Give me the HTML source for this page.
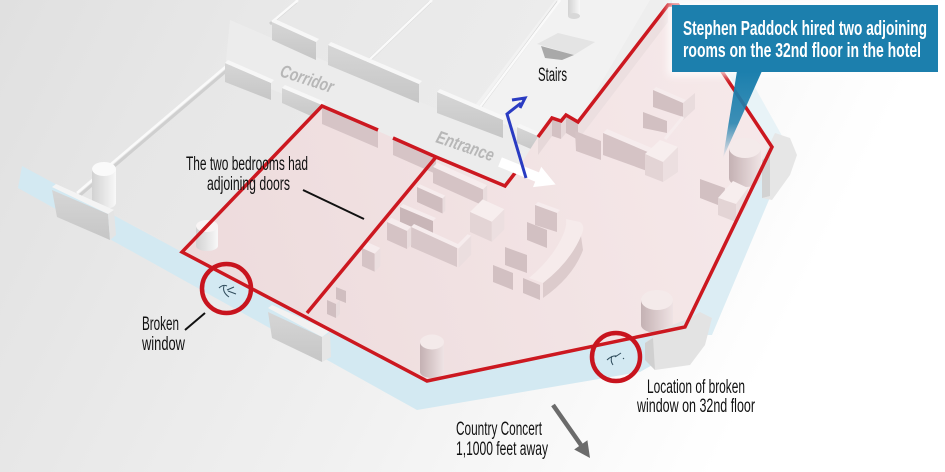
<!DOCTYPE html>
<html><head><meta charset="utf-8"><style>
html,body{margin:0;padding:0;background:#fff;}
svg{display:block;}
text{font-family:"Liberation Sans Narrow","Liberation Sans",sans-serif;}
</style></head><body>
<svg width="945" height="472" viewBox="0 0 945 472" xmlns="http://www.w3.org/2000/svg">
<defs>
<linearGradient id="bg" x1="0" y1="0" x2="760" y2="380" gradientUnits="userSpaceOnUse">
<stop offset="0" stop-color="#e0e0e0"/><stop offset="0.6" stop-color="#f1f1f1"/><stop offset="1" stop-color="#ffffff"/>
</linearGradient>
<linearGradient id="fl" x1="0" y1="0" x2="760" y2="380" gradientUnits="userSpaceOnUse">
<stop offset="0" stop-color="#e3e3e3"/><stop offset="0.6" stop-color="#ececec"/><stop offset="1" stop-color="#f4f4f4"/>
</linearGradient>
<linearGradient id="pk" x1="180" y1="260" x2="770" y2="90" gradientUnits="userSpaceOnUse">
<stop offset="0" stop-color="#eddbdc"/><stop offset="1" stop-color="#f6e9ea"/>
</linearGradient>
<linearGradient id="ptr" x1="0" y1="72" x2="0" y2="158" gradientUnits="userSpaceOnUse">
<stop offset="0" stop-color="#1c7fad"/><stop offset="0.6" stop-color="#1c7fad" stop-opacity="0.85"/><stop offset="1" stop-color="#1c7fad" stop-opacity="0"/>
</linearGradient>
<linearGradient id="cyl" x1="0" x2="1"><stop offset="0" stop-color="#c4b1b3"/><stop offset="1" stop-color="#efe3e4"/></linearGradient>
<linearGradient id="cylw" x1="0" x2="1"><stop offset="0" stop-color="#d2d2d2"/><stop offset="1" stop-color="#f8f8f8"/></linearGradient>
<linearGradient id="gw" x1="0" y1="0" x2="0" y2="1"><stop offset="0" stop-color="#d6d6d6"/><stop offset="1" stop-color="#c6c6c6"/></linearGradient>
<filter id="blur" x="-20%" y="-20%" width="140%" height="140%"><feGaussianBlur stdDeviation="4"/></filter>
</defs>

<!-- background -->
<rect x="0" y="0" width="945" height="472" fill="url(#bg)"/>

<!-- window band -->
<polygon points="22,166 182,252 427,381 685,327 705,335 640,372 417,410 18,188" fill="#d3e9f2"/>
<polygon points="685,327 772,147 790,150 712,335 705,335" fill="#dcedf4"/>
<polygon points="727,72 772,147 790,150 748,75" fill="#e8f3f7"/>
<polygon points="650,0 672,0 672,14 660,22" fill="#d8ecf4"/>

<!-- gray floor -->
<polygon points="77,193 230,63 298,0 672,0 668,5 578,122 566,115 561,121 552,118 538,137 515,173 505,186 436,157 322,106 182,252" fill="url(#fl)"/>
<!-- corridor strip -->
<polygon points="230,20 520,145 515,173 505,186 225,70" fill="#ececec"/>
<!-- stairs room -->
<polygon points="470,112 555,0 650,0 578,122 566,115 561,121 552,118 538,137 520,130" fill="#f2f2f2"/>

<!-- thin wall lines -->
<line x1="79" y1="196" x2="232" y2="66" stroke="#cfcfcf" stroke-width="3"/>
<line x1="77" y1="193" x2="230" y2="63" stroke="#fafafa" stroke-width="2.5"/>
<line x1="270" y1="24" x2="296" y2="2" stroke="#cfcfcf" stroke-width="3"/>
<line x1="272" y1="22" x2="298" y2="0" stroke="#fafafa" stroke-width="2.5"/>
<line x1="365" y1="64" x2="430" y2="2" stroke="#cfcfcf" stroke-width="3"/>
<line x1="367" y1="62" x2="432" y2="0" stroke="#fafafa" stroke-width="2.5"/>
<line x1="478" y1="110" x2="558" y2="2" stroke="#cfcfcf" stroke-width="3"/>
<line x1="480" y1="107" x2="560" y2="0" stroke="#fafafa" stroke-width="2.5"/>
<rect x="568" y="0" width="12" height="16" fill="url(#cylw)"/>
<ellipse cx="574" cy="16" rx="6" ry="3" fill="#d8d8d8"/>

<!-- stairs -->
<polygon points="537,44 558,33 595,42 574,55" fill="#e4e4e4"/>
<polygon points="541,46 574,55 562,60 545,58" fill="#a9a9a9"/>

<!-- gray corridor walls -->
<polygon points="272,22 316,42 316,60 272,40" fill="url(#gw)"/>
<polygon points="272,22 316,42 319,39 275,19" fill="#f7f7f7"/>
<polygon points="328,45 419,84 419,103 328,65" fill="url(#gw)"/>
<polygon points="328,45 419,84 422,81 331,42" fill="#f7f7f7"/>
<polygon points="437,92 503,120 503,138 437,113" fill="url(#gw)"/>
<polygon points="437,92 503,120 506,117 440,89" fill="#f7f7f7"/>
<polygon points="225,63 271,83 271,100 225,82" fill="url(#gw)"/>
<polygon points="225,63 271,83 274,80 228,60" fill="#f7f7f7"/>
<polygon points="282,88 322,105 322,121 282,103" fill="url(#gw)"/>
<polygon points="282,88 322,105 325,102 285,85" fill="#f7f7f7"/>
<polygon points="517,127 540,137 540,153 517,143" fill="url(#gw)"/>
<polygon points="517,127 540,137 543,134 520,124" fill="#f7f7f7"/>

<!-- pink floor -->
<polygon points="182,252 322,106 436,157 505,186 515,173 538,137 552,118 561,121 566,115 578,122 668,5 678,5 772,147 685,327 427,381" fill="url(#pk)"/>

<!-- pink wall faces along edges -->
<polygon points="322,106 378,130 378,148 322,124" fill="#d6c4c6"/>
<polygon points="393,137 436,156 436,174 393,155" fill="#d6c4c6"/>
<polygon points="538,137 552,118 552,136 538,155" fill="#e6d8d9"/>
<polygon points="552,118 561,121 561,139 552,136" fill="#d3c1c3"/>
<polygon points="561,121 566,115 566,133 561,139" fill="#e6d8d9"/>
<polygon points="566,115 578,122 578,140 566,133" fill="#d3c1c3"/>
<polygon points="578,122 668,5 668,22 578,140" fill="#ecdfe0"/>

<!-- furniture left room -->
<polygon points="433,167 483,189.5 487.2,185.2 437.2,162.7" fill="#f6eced"/>
<polygon points="433,183 483,205.5 483,189.5 433,167" fill="#d5c3c5"/>
<polygon points="483,205.5 487.2,201.2 487.2,185.2 483,189.5" fill="#e9dcdd"/>

<polygon points="470,212 491.8,221.8 504.4,209.2 482.6,199.4" fill="#f7eeee"/>
<polygon points="470,232 491.8,241.8 491.8,221.8 470,212" fill="#e3d4d5"/>
<polygon points="491.8,241.8 504.4,229.2 504.4,209.2 491.8,221.8" fill="#ecdfe0"/>

<polygon points="417,187 442.5,198.5 445.3,195.7 419.8,184.2" fill="#f6eced"/>
<polygon points="417,202 442.5,213.5 442.5,198.5 417,187" fill="#cfbdbf"/>
<polygon points="442.5,213.5 445.3,210.7 445.3,195.7 442.5,198.5" fill="#e9dcdd"/>

<polygon points="400,207 433,221 436,218 403,204" fill="#f6eced"/>
<polygon points="400,207 433,221 433,236 400,222" fill="#c9b6b8"/>

<polygon points="411,227 457,248 460,245 414,224" fill="#f6eced"/>
<polygon points="411,227 457,248 457,267 411,247" fill="#d8c7c9"/>
<polygon points="455,247 458.6,248.6 471.2,235.8 467.6,234.2" fill="#f6eced"/>
<polygon points="458.6,267.6 471.2,254.8 471.2,235.8 458.6,248.6" fill="#ebdedf"/>

<polygon points="387,222 407,231 411.2,226.7 391.2,217.7" fill="#f6eced"/>
<polygon points="387,240 407,249 407,231 387,222" fill="#d5c3c5"/>
<polygon points="407,249 411.2,244.7 411.2,226.7 407,231" fill="#e9dcdd"/>

<polygon points="362,248 374.7,253.7 380.3,248 367.6,242.3" fill="#f6eced"/>
<polygon points="362,266 374.7,271.7 374.7,253.7 362,248" fill="#d5c3c5"/>
<polygon points="374.7,271.7 380.3,266 380.3,248 374.7,253.7" fill="#ebdedf"/>

<polygon points="327,300 336,304 336,318 327,314" fill="#d0bec0"/>
<polygon points="336,304 340,300 340,314 336,318" fill="#e8dbdc"/>
<polygon points="336,287 346,291 346,303 336,299" fill="#d0bec0"/>

<!-- right cluster -->
<polygon points="535,205 557,213 560,210 538,202" fill="#f6eced"/>
<polygon points="535,205 557,213 557,232 535,225" fill="#d5c3c5"/>
<polygon points="527,222 547,230 547,248 527,240" fill="#d2c0c2"/>
<polygon points="505,247 527,255 527,273 505,265" fill="#d2c0c2"/>
<polygon points="493,265 513,273 513,290 493,282" fill="#d2c0c2"/>
<polygon points="523,278 540,285 540,300 523,293" fill="#d2c0c2"/>
<path d="M581,236 Q570,262 543,283 L543,298 Q573,277 583,250 Z" fill="#dccbcc"/>
<path d="M566,219 L580,222 Q586,226 581,236 Q570,262 543,283 L529,278 Q553,258 563,235 Q567,226 566,219 Z" fill="#f6ebeb"/>

<!-- top right cluster -->
<polygon points="653,90 683,103 686,100 656,87" fill="#f6eced"/>
<polygon points="653,90 683,103 683,117 653,107" fill="#d2c0c2"/>
<polygon points="683,103 695,93 695,109 683,120" fill="#e9dcdd"/>
<polygon points="643,112 667,121 667,133 643,128" fill="#d2c0c2"/>
<line x1="665" y1="139" x2="683" y2="117" stroke="#f6eced" stroke-width="3"/>
<polygon points="603,133 650,153 654,149 607,129" fill="#f6eced"/>
<polygon points="603,133 650,153 650,172 603,155" fill="#d5c3c5"/>
<polygon points="645,154 660,140 678,147 663,162" fill="#f7eeee"/>
<polygon points="645,154 663,162 663,182 645,175" fill="#e3d4d5"/>
<polygon points="663,162 678,147 678,172 663,182" fill="#ecdfe0"/>
<polygon points="575,131 601,141 601,160 576,151" fill="#d5c3c5"/>
<polygon points="700,179 725,188 723,207 700,198" fill="#d2c0c2"/>

<!-- cylinders -->
<path d="M729,148 L729,178 A16,9 0 0 0 761,178 L761,148 Z" fill="url(#cyl)"/>
<ellipse cx="745" cy="148" rx="16" ry="10" fill="#f4eaea"/>
<polygon points="718,198 733,181 748,188 736,204" fill="#f7eeee"/>
<polygon points="718,198 736,204 736,222 718,215" fill="#e3d4d5"/>
<polygon points="736,204 748,188 748,205 736,222" fill="#ecdfe0"/>

<path d="M641,300 L641,325 A16,8 0 0 0 673,325 L673,300 Z" fill="url(#cyl)"/>
<ellipse cx="657" cy="300" rx="16" ry="10" fill="#f4eaea"/>
<path d="M420,342 L420,372 A12,6 0 0 0 444,372 L444,342 Z" fill="url(#cyl)"/>
<ellipse cx="432" cy="342" rx="12" ry="7.5" fill="#f4eaea"/>
<path d="M196,226 L196,246 A11,5 0 0 0 218,246 L218,226 Z" fill="url(#cylw)"/>
<ellipse cx="207" cy="226" rx="11" ry="6" fill="#f8f4f4"/>
<path d="M92,169 L92,203 A12,6 0 0 0 116,203 L116,169 Z" fill="url(#cylw)"/>
<ellipse cx="104" cy="169" rx="12" ry="7" fill="#fafafa"/>

<!-- outside gray blocks -->
<polygon points="52,187 56,184 114,210 108,214" fill="#f4f4f4"/>
<polygon points="52,190 108,214 110,240 57,217" fill="url(#gw)"/>
<polygon points="108,214 114,210 116,235 110,240" fill="#e4e4e4"/>
<polygon points="268,308 272,305 330,331 322,337" fill="#f2f2f2"/>
<polygon points="268,312 322,337 322,362 272,338" fill="url(#gw)"/>
<polygon points="322,337 330,333 331,357 322,362" fill="#e6e6e6"/>
<polygon points="645,343 660,330 690,318 700,312 712,318 705,345 690,365 655,370 645,360" fill="#e3e3e3"/>
<polygon points="645,343 653,338 655,370 645,360" fill="#d0d0d0"/>
<polygon points="762,160 775,133 790,138 797,155 790,175 772,200 762,198" fill="#e6e6e6"/>
<polygon points="762,160 770,155 770,196 762,198" fill="#d2d2d2"/>

<!-- red outline -->
<g fill="none" stroke="#cc1820" stroke-width="3.5" stroke-linejoin="miter">
<path d="M378,130 L322,106 L182,252 L427,381 L685,327 L772,147 L678,5 L668,5 L578,122 L566,115 L561,121 L552,118 L538,137"/>
<path d="M393,138 L436,157 L505,186 L515,173"/>
<path d="M436,157 L307,313"/>
</g>

<!-- cracks -->
<g fill="none" stroke="#2f4c5c" stroke-width="1">
<path d="M219,288 Q223,284 227,286 M224,286 Q222,292 229,297 M227,290 L234,287 M228,291 L236,294"/>
<path d="M607,360 Q612,355 617,356 M612,356 Q610,361 613,365 M615,357 L621,353 M623,358 l1,1"/>
</g>
<!-- red circles -->
<circle cx="226.5" cy="288.5" r="24.5" fill="none" stroke="#c8141e" stroke-width="4.5"/>
<circle cx="616" cy="357" r="24" fill="none" stroke="#c8141e" stroke-width="4.5"/>

<!-- arrows -->
<g transform="translate(500,162) rotate(22)">
<polygon points="0,-5 40,-5 40,-11 60,0 40,11 40,5 0,5" fill="#ffffff"/>
</g>
<path d="M526,178 L507,114 L521,103" fill="none" stroke="#2a3bc2" stroke-width="3"/>
<path d="M512,100 L525,98 L520,108" fill="none" stroke="#2a3bc2" stroke-width="3"/>
<line x1="553" y1="405" x2="581" y2="445" stroke="#6b6b6b" stroke-width="4.5"/>
<polygon points="590,458 574.2,449.5 587.4,440.3" fill="#6b6b6b"/>

<!-- leader lines -->
<line x1="303" y1="190" x2="364" y2="219" stroke="#111" stroke-width="2"/>
<line x1="185" y1="330" x2="205" y2="313" stroke="#111" stroke-width="2"/>

<!-- floor text -->
<text transform="translate(279,76) rotate(18)" font-size="18" font-style="italic" font-weight="bold" fill="#b7b7b7" textLength="55" lengthAdjust="spacingAndGlyphs">Corridor</text>
<text transform="translate(435,142) rotate(19)" font-size="18" font-style="italic" font-weight="bold" fill="#b7b7b7" textLength="60" lengthAdjust="spacingAndGlyphs">Entrance</text>

<!-- labels -->
<g font-size="19" fill="#111">
<text x="538" y="81" textLength="29" lengthAdjust="spacingAndGlyphs">Stairs</text>
<text x="186" y="170" textLength="122" lengthAdjust="spacingAndGlyphs">The two bedrooms had</text>
<text x="207" y="190" textLength="83" lengthAdjust="spacingAndGlyphs">adjoining doors</text>
<text x="142" y="330" textLength="37" lengthAdjust="spacingAndGlyphs">Broken</text>
<text x="142" y="350" textLength="43" lengthAdjust="spacingAndGlyphs">window</text>
<text x="647" y="393" textLength="98" lengthAdjust="spacingAndGlyphs">Location of broken</text>
<text x="637" y="412" textLength="118" lengthAdjust="spacingAndGlyphs">window on 32nd floor</text>
<text x="456" y="435" textLength="86" lengthAdjust="spacingAndGlyphs">Country Concert</text>
<text x="456" y="455" textLength="92" lengthAdjust="spacingAndGlyphs">1,1000 feet away</text>
</g>

<!-- callout -->
<rect x="668" y="2" width="274" height="74" fill="#ffffff" opacity="0.8" filter="url(#blur)"/>
<polygon points="737,71 762,71 723,158" fill="url(#ptr)"/>
<rect x="672" y="5" width="266" height="67" fill="#1c7fad"/>
<text x="683" y="35" font-size="20" font-weight="bold" fill="#ffffff" textLength="244" lengthAdjust="spacingAndGlyphs">Stephen Paddock hired two adjoining</text>
<text x="683" y="57" font-size="20" font-weight="bold" fill="#ffffff" textLength="238" lengthAdjust="spacingAndGlyphs">rooms on the 32nd floor in the hotel</text>
</svg>
</body></html>
